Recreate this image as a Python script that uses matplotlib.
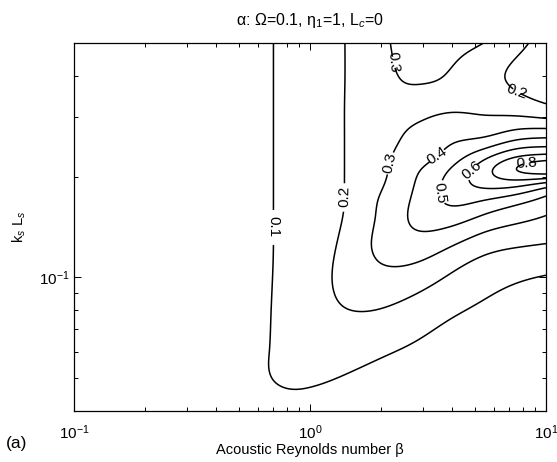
import numpy as np
import matplotlib
matplotlib.use("Agg")
import matplotlib.pyplot as plt
from matplotlib.ticker import LogLocator, NullFormatter

plt.rcParams["font.family"] = ["Liberation Sans", "DejaVu Sans"]
plt.rcParams["mathtext.fontset"] = "custom"
plt.rcParams["mathtext.rm"] = "Liberation Sans"
plt.rcParams["mathtext.it"] = "Liberation Sans:italic"
plt.rcParams["mathtext.sf"] = "Liberation Sans"

# Attenuation alpha tabulated on a (k_s L_s, beta) grid
beta_nodes = [0.1, 0.3, 0.5, 0.7, 1.0, 1.4, 2.0, 3.0, 4.0, 5.5, 7.5, 10.0]
ksls_nodes = [0.04, 0.045, 0.05, 0.06, 0.075, 0.1, 0.125, 0.15,
              0.17, 0.19, 0.21, 0.23, 0.265, 0.32, 0.39, 0.5]
alpha_table = [
    [0.010, 0.028, 0.050, 0.075, 0.083, 0.077, 0.064, 0.048, 0.038, 0.030, 0.024, 0.020],
    [0.011, 0.032, 0.058, 0.090, 0.095, 0.086, 0.071, 0.054, 0.044, 0.034, 0.028, 0.024],
    [0.012, 0.036, 0.065, 0.101, 0.107, 0.097, 0.082, 0.062, 0.050, 0.040, 0.033, 0.029],
    [0.013, 0.040, 0.070, 0.104, 0.128, 0.125, 0.108, 0.082, 0.064, 0.052, 0.045, 0.040],
    [0.014, 0.042, 0.071, 0.103, 0.150, 0.182, 0.175, 0.130, 0.098, 0.080, 0.070, 0.055],
    [0.014, 0.042, 0.071, 0.101, 0.155, 0.225, 0.270, 0.240, 0.185, 0.135, 0.110, 0.095],
    [0.014, 0.042, 0.071, 0.100, 0.150, 0.220, 0.325, 0.355, 0.305, 0.240, 0.210, 0.195],
    [0.014, 0.042, 0.071, 0.100, 0.145, 0.205, 0.320, 0.430, 0.440, 0.375, 0.325, 0.290],
    [0.014, 0.042, 0.071, 0.100, 0.142, 0.200, 0.310, 0.440, 0.520, 0.500, 0.440, 0.370],
    [0.014, 0.042, 0.071, 0.100, 0.141, 0.200, 0.290, 0.430, 0.540, 0.630, 0.640, 0.570],
    [0.014, 0.042, 0.071, 0.100, 0.141, 0.200, 0.280, 0.405, 0.510, 0.660, 0.800, 0.860],
    [0.014, 0.042, 0.071, 0.100, 0.141, 0.200, 0.280, 0.360, 0.450, 0.570, 0.690, 0.730],
    [0.014, 0.042, 0.071, 0.100, 0.141, 0.200, 0.275, 0.323, 0.370, 0.390, 0.455, 0.475],
    [0.014, 0.042, 0.071, 0.100, 0.141, 0.200, 0.275, 0.288, 0.292, 0.282, 0.257, 0.222],
    [0.014, 0.042, 0.071, 0.100, 0.141, 0.199, 0.280, 0.304, 0.290, 0.235, 0.185, 0.160],
    [0.014, 0.042, 0.071, 0.100, 0.141, 0.199, 0.287, 0.316, 0.322, 0.298, 0.225, 0.170],
]
labelled_levels = [0.1, 0.2, 0.3, 0.4, 0.5, 0.6, 0.8]
unlabelled_levels = [0.7]
# where the inline level labels sit (beta, k_s L_s)
label_spots = [(0.70, 0.142), (1.38, 0.174), (2.22, 0.219), (2.38, 0.439),
               (7.5, 0.355), (3.45, 0.232), (3.56, 0.179), (4.85, 0.209),
               (8.3, 0.224)]


def spline_weights(xk, xq):
    """Natural cubic spline as a weight matrix: yq = W @ yk."""
    xk = np.asarray(xk, float)
    n = len(xk)
    h = np.diff(xk)
    A = np.zeros((n, n))
    B = np.zeros((n, n))
    A[0, 0] = A[-1, -1] = 1.0
    for i in range(1, n - 1):
        A[i, i - 1] = h[i - 1] / 6
        A[i, i] = (h[i - 1] + h[i]) / 3
        A[i, i + 1] = h[i] / 6
        B[i, i - 1] = 1 / h[i - 1]
        B[i, i] = -1 / h[i - 1] - 1 / h[i]
        B[i, i + 1] = 1 / h[i]
    M = np.linalg.solve(A, B)
    W = np.zeros((len(xq), n))
    idx = np.clip(np.searchsorted(xk, xq) - 1, 0, n - 2)
    for q, (x, i) in enumerate(zip(xq, idx)):
        hi = h[i]
        a = (xk[i + 1] - x) / hi
        b = (x - xk[i]) / hi
        W[q, i] += a
        W[q, i + 1] += b
        W[q] += (a ** 3 - a) * hi ** 2 / 6 * M[i] + (b ** 3 - b) * hi ** 2 / 6 * M[i + 1]
    return W


u_nodes = np.log10(beta_nodes)
v_nodes = np.log10(ksls_nodes)
uq = np.linspace(u_nodes[0], u_nodes[-1], 500)
vq = np.linspace(v_nodes[0], v_nodes[-1], 500)
Z = spline_weights(v_nodes, vq) @ np.array(alpha_table) @ spline_weights(u_nodes, uq).T
BB, KK = np.meshgrid(10 ** uq, 10 ** vq)

fig = plt.figure(figsize=(5.57, 4.62), dpi=100)
ax = fig.add_axes([74 / 557, 1 - 411 / 462, 472 / 557, 368 / 462])
cs = ax.contour(BB, KK, Z, levels=labelled_levels, colors="k", linewidths=1.1)
ax.contour(BB, KK, Z, levels=unlabelled_levels, colors="k", linewidths=1.1)
ax.clabel(cs, inline=True, fontsize=11, fmt="%.1f", manual=label_spots, inline_spacing=3)

ax.set_xscale("log")
ax.set_yscale("log")
ax.set_xlim(0.1, 10)
ax.set_ylim(0.04, 0.5)
ax.yaxis.set_minor_formatter(NullFormatter())
ax.xaxis.set_minor_locator(LogLocator(base=10, subs=np.arange(2, 10)))
ax.yaxis.set_minor_locator(LogLocator(base=10, subs=np.arange(2, 10)))
ax.tick_params(which="both", direction="in", top=True, right=True, labelsize=11, width=0.7)
ax.tick_params(which="major", length=5)
ax.tick_params(which="minor", length=3)
ax.tick_params(axis="x", which="major", pad=9)
ax.tick_params(axis="y", which="major", pad=3)
for s in ax.spines.values():
    s.set_linewidth(0.9)

ax.set_title("α: Ω=0.1, η$_1$=1, L$_c$=0", fontsize=11.5, pad=13)
ax.set_xlabel("Acoustic Reynolds number β", fontsize=10.5, labelpad=1)
ax.set_ylabel("k$_s$ L$_s$", fontsize=10.5, labelpad=8)
fig.text(0.01, 0.03, "(a)", fontsize=12.5)

fig.savefig("out.png", dpi=100)
